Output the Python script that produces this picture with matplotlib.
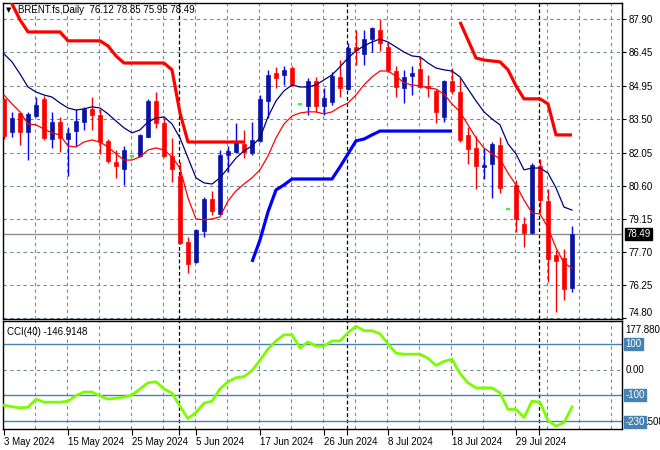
import matplotlib
matplotlib.use("Agg")
import matplotlib.pyplot as plt
import numpy as np

plt.rcParams['font.family'] = ['Liberation Sans', 'DejaVu Sans']
plt.rcParams['font.size'] = 7

W, H = 660, 450
nan = np.nan

# ---------------- data ----------------
dates = ["3 May 2024", "15 May 2024", "25 May 2024", "5 Jun 2024", "17 Jun 2024",
         "26 Jun 2024", "8 Jul 2024", "18 Jul 2024", "29 Jul 2024"]
date_bars = [0, 8, 16, 24, 32, 40, 48, 56, 64]
month_start_bars = [22, 43, 67]

opens = [84.40, 82.96, 83.78, 82.95, 83.65, 84.40, 82.64, 83.39, 82.64, 82.99,
         83.39, 83.96, 83.70, 82.56, 81.64, 81.33, 81.91, 81.90, 82.73, 84.31,
         83.35, 81.90, 81.02, 78.13, 77.26, 78.61, 80.02, 79.36, 81.94, 82.07,
         82.42, 82.03, 82.56, 84.31, 85.53, 85.45, 85.75, 84.18, 84.09, 85.18,
         84.09, 84.26, 85.36, 84.83, 86.67, 86.37, 87.02, 87.42, 86.67, 85.62,
         84.88, 85.40, 85.71, 84.97, 84.75, 83.61, 85.18, 84.70, 82.82, 82.25,
         81.42, 81.55, 82.38, 79.58, 80.63, 78.92, 78.53, 81.46, 79.93, 77.56,
         77.43, 76.12]
highs = [84.45, 83.83, 83.83, 83.83, 84.48, 84.53, 83.83, 83.61, 83.17, 83.96,
         84.05, 84.48, 83.96, 82.64, 82.16, 82.34, 81.91, 82.86, 84.40, 84.70,
         83.56, 82.69, 81.64, 78.35, 78.70, 80.10, 80.37, 82.16, 82.34, 83.35,
         83.04, 83.39, 84.57, 85.67, 85.80, 85.84, 85.84, 84.18, 85.32, 85.36,
         84.88, 85.58, 86.10, 86.85, 87.42, 87.42, 87.55, 87.90, 86.89, 85.84,
         85.67, 85.84, 86.24, 85.45, 84.83, 85.23, 85.75, 85.32, 83.17, 82.78,
         82.25, 82.51, 82.73, 79.58, 80.85, 79.23, 81.59, 81.77, 80.45, 77.78,
         77.83, 78.85]
lows = [82.65, 82.73, 82.38, 81.72, 83.61, 82.60, 82.25, 82.07, 81.02, 82.34,
        83.04, 83.04, 81.99, 81.59, 80.94, 80.63, 81.91, 81.86, 82.73, 83.13,
        81.86, 80.76, 78.05, 76.78, 77.21, 78.35, 79.32, 79.32, 81.20, 82.03,
        81.81, 81.94, 82.51, 83.56, 84.88, 85.01, 84.97, 84.18, 83.70, 83.83,
        83.70, 84.13, 84.48, 84.79, 85.89, 85.89, 86.45, 86.50, 85.58, 84.48,
        84.22, 84.57, 84.88, 84.48, 83.35, 83.39, 84.60, 82.51, 81.55, 80.45,
        80.89, 80.06, 80.28, 79.58, 78.57, 77.91, 78.48, 79.40, 76.38, 75.07,
        75.59, 75.95]
closes = [82.78, 83.55, 82.95, 83.74, 84.13, 82.69, 83.39, 82.69, 82.91, 83.43,
          83.96, 83.70, 82.51, 81.68, 81.46, 82.16, 81.91, 82.82, 84.31, 83.35,
          81.90, 81.33, 78.09, 77.17, 78.66, 80.02, 79.49, 81.94, 82.12, 82.51,
          82.07, 82.60, 84.40, 85.45, 85.32, 85.67, 85.05, 84.18, 85.18, 84.09,
          84.44, 85.40, 84.88, 86.63, 86.54, 87.02, 87.51, 86.85, 85.67, 84.92,
          85.36, 85.53, 84.92, 84.88, 83.83, 85.18, 84.75, 82.60, 82.20, 81.46,
          81.51, 82.42, 80.50, 79.58, 79.14, 78.53, 81.51, 79.97, 77.39, 77.30,
          76.07, 78.49]

upper_stop = [89.26, 88.56, 87.86, 87.33, 87.33, 87.33, 87.33, 87.33, 86.94, 86.94,
              86.94, 86.94, 86.94, 86.72, 86.28, 85.97, 85.97, 85.97, 85.97, 85.97,
              85.97, 85.67, 83.78, 82.51, 82.51, 82.51, 82.51, 82.51, 82.51, 82.51,
              82.51, nan, nan, nan, nan, nan, nan, nan, nan, nan,
              nan, nan, nan, nan, nan, nan, nan, nan, nan, nan,
              nan, nan, nan, nan, nan, nan, nan, 87.77, 86.98, 86.19,
              86.10, 86.06, 86.02, 85.67, 84.97, 84.40, 84.40, 84.40, 84.18, 82.82,
              82.82, 82.82]
lower_stop = [nan] * 31 + [77.26, 78.22, 79.45, 80.41, 80.63, 80.89, 80.89, 80.89, 80.89,
                           80.89, 80.89, 81.42, 81.99, 82.56, 82.64, 82.82, 82.99, 82.99,
                           82.99, 82.99, 82.99, 82.99, 82.99, 82.99, 82.99, 82.99] + [nan] * 15

ma_high = [86.37, 86.02, 85.49, 84.92, 84.70, 84.57, 84.48, 84.22, 84.00, 83.91,
           83.96, 84.05, 84.00, 83.74, 83.43, 83.13, 82.91, 83.04, 83.39, 83.56,
           83.61, 83.30, 82.69, 81.81, 80.94, 80.72, 80.67, 80.94, 81.37, 81.81,
           82.12, 82.34, 82.69, 83.61, 84.31, 84.75, 85.01, 84.92, 84.92, 85.01,
           85.23, 85.45, 85.80, 86.19, 86.50, 86.72, 86.89, 87.02, 86.89, 86.67,
           86.45, 86.28, 86.24, 85.97, 85.75, 85.67, 85.62, 85.36, 84.83, 84.31,
           83.83, 83.52, 83.26, 82.43, 81.99, 81.29, 81.37, 81.37, 81.15, 80.50,
           79.66, 79.53]
ma_low = [84.57, 84.18, 83.83, 83.30, 83.26, 83.08, 82.91, 82.82, 82.34, 82.29,
          82.51, 82.60, 82.51, 82.29, 81.99, 81.72, 81.72, 81.86, 82.16, 82.25,
          82.16, 81.86, 81.37, 80.06, 79.14, 79.10, 79.14, 79.23, 79.93, 80.37,
          80.67, 80.94, 81.29, 81.90, 82.69, 83.30, 83.65, 83.78, 83.83, 83.83,
          83.74, 83.83, 84.05, 84.22, 84.57, 85.01, 85.36, 85.62, 85.62, 85.40,
          85.10, 85.01, 84.97, 84.88, 84.83, 84.61, 84.18, 83.83, 83.26, 82.69,
          82.25, 81.99, 81.77, 81.15, 80.63, 79.97, 79.40, 79.36, 78.75, 77.87,
          77.21, 76.99]

cci = [-140, -146, -150, -148, -116, -128, -128, -128, -124, -102,
       -88, -88, -104, -116, -112, -108, -100, -76, -52, -48,
       -76, -92, -144, -192, -168, -132, -124, -76, -48, -32,
       -28, -4, 36, 80, 112, 136, 136, 84, 108, 92,
       92, 112, 112, 144, 170, 152, 152, 140, 100, 64,
       60, 60, 60, 44, 16, 32, 40, -16, -52, -72,
       -72, -72, -92, -156, -156, -188, -124, -128, -200, -222,
       -208, -146.9148]

price_levels = [87.90, 86.45, 84.95, 83.50, 82.05, 80.60, 79.15, 77.70, 76.25, 74.80]
cci_levels = [100, -100, -200]
cci_max_label = "177.8808"
cci_min_label = "-230.508"
last_price = 78.49

# ---------------- styles ----------------
UP_BODY = "#0a14a0"
UP_WICK = "#0000ff"
DN = "#ff0000"
DOJI = "#00ff00"
GRID = "#778899"
LEVEL = "#4682b4"

fig = plt.figure(figsize=(W / 100, H / 100), dpi=100)
fig.patch.set_facecolor("white")

def px_rect(x0, y0, x1, y1):
    return [x0 / W, 1 - y1 / H, (x1 - x0) / W, (y1 - y0) / H]

ax = fig.add_axes(px_rect(3, 2.5, 622, 318.5))
ax2 = fig.add_axes(px_rect(3, 321, 622, 429))

n = len(opens)
x = np.arange(n)
o = np.array(opens); h = np.array(highs); l = np.array(lows); c = np.array(closes)

x_lo = -0.125
x_hi = 77.25
for a in (ax, ax2):
    a.set_xlim(x_lo, x_hi)
    for s in a.spines.values():
        s.set_color("black")
        s.set_linewidth(1)
    a.set_facecolor("white")

ax.set_ylim(74.78, 88.62)
ax2.set_ylim(-233, 190)

# grids
grid_x = np.arange(3.875, x_hi, 4)
for a in (ax, ax2):
    for gx in grid_x:
        a.axvline(gx, color=GRID, lw=0.8, dashes=(3, 3), zorder=0.5)
    for mb in month_start_bars:
        a.axvline(mb - 0.1, color="black", lw=0.9, dashes=(3, 2), zorder=0.6)
for pl in price_levels:
    ax.axhline(pl, color=GRID, lw=0.8, dashes=(3, 3), zorder=0.5)
ax2.axhline(0, color=GRID, lw=0.8, dashes=(3, 3), zorder=0.5)

# current price line
ax.axhline(last_price, color="#8c8c8c", lw=1, zorder=0.7)

# candles
doji = o == c
up = c > o
dn = c < o
wick_colors = np.where(up, UP_WICK, DN)
nd = ~doji
ax.vlines(x[nd], l[nd], h[nd], colors=wick_colors[nd], lw=1, zorder=2)
bw = 0.62
ax.bar(x[up], (c - o)[up], bottom=o[up], width=bw, color=UP_BODY,
       edgecolor=UP_BODY, lw=0.5, zorder=3)
ax.bar(x[dn], (o - c)[dn], bottom=c[dn], width=bw, color=DN,
       edgecolor=DN, lw=0.5, zorder=3)
ax.hlines(c[doji], x[doji] - bw / 2, x[doji] + bw / 2, colors=DOJI, lw=1.2, zorder=3)

# indicators
ax.plot(x, ma_high, color="#000080", lw=0.9, zorder=4)
ax.plot(x, ma_low, color="#ff0000", lw=0.9, zorder=4)
ax.plot(x, upper_stop, color="#ff0000", lw=2.3, zorder=4, solid_capstyle="butt")
ax.plot(x, lower_stop, color="#0000ff", lw=2.3, zorder=4, solid_capstyle="butt")

# right price axis
ax.yaxis.tick_right()
ax.set_yticks(price_levels)
ax.set_yticklabels([f"{v:.2f}" for v in price_levels])
ax.tick_params(axis="y", direction="out", length=3, width=0.8, pad=2, labelsize=7)
ax.get_yticklabels()[-1].set_va("bottom")
ax.set_xticks([])

ax.annotate(f"{last_price:.2f}", xy=(1, last_price), xycoords=("axes fraction", "data"),
            xytext=(3, 0), textcoords="offset points", va="center", ha="left",
            color="white", fontsize=7,
            bbox=dict(boxstyle="square,pad=0.12", fc="black", ec="black"),
            annotation_clip=False, zorder=10)

# CCI panel
ax2.plot(x, cci, color="#7cfc00", lw=2, zorder=4)
for lv in cci_levels:
    ax2.axhline(lv, color=LEVEL, lw=1, zorder=1)
ax2.set_yticks([])
ax2.set_xticks(date_bars)
ax2.set_xticklabels(dates, ha="left")
ax2.set_xticks([mb - 0.1 for mb in month_start_bars], minor=True)
ax2.tick_params(axis="x", which="both", direction="out", length=4, width=0.8, pad=2, labelsize=7)

def right_label(a, y, txt, box=None, dx=2.5):
    kw = dict(xy=(1, y), xycoords=("axes fraction", "data"), xytext=(dx, 0),
              textcoords="offset points", va="center", ha="left", fontsize=7,
              annotation_clip=False, zorder=10)
    if box:
        kw["bbox"] = dict(boxstyle="square,pad=0.12", fc=box, ec=box)
        kw["color"] = "white"
    else:
        kw["color"] = "black"
    a.annotate(txt, **kw)

right_label(ax2, 155, cci_max_label)
right_label(ax2, 0, "0.00")
right_label(ax2, 100, "100", LEVEL)
right_label(ax2, -100, "-100", LEVEL)
# bottom label: level box overlapping the window minimum value
right_label(ax2, -206, cci_min_label[:4], LEVEL)
right_label(ax2, -206, cci_min_label[4:], None, dx=2.5 + 14.2)

# header texts
fig.text(6 / W, 1 - 10 / H, "▼", fontsize=5, va="center", ha="left",
         family=["DejaVu Sans"])
fig.text(18 / W, 1 - 10 / H, "BRENT.fs,Daily  76.12 78.85 75.95 78.49",
         fontsize=7, va="center", ha="left", zorder=20)
fig.text(7 / W, 1 - 332 / H, "CCI(40) -146.9148", fontsize=7, va="center", ha="left")

fig.savefig("out.png", dpi=100)
